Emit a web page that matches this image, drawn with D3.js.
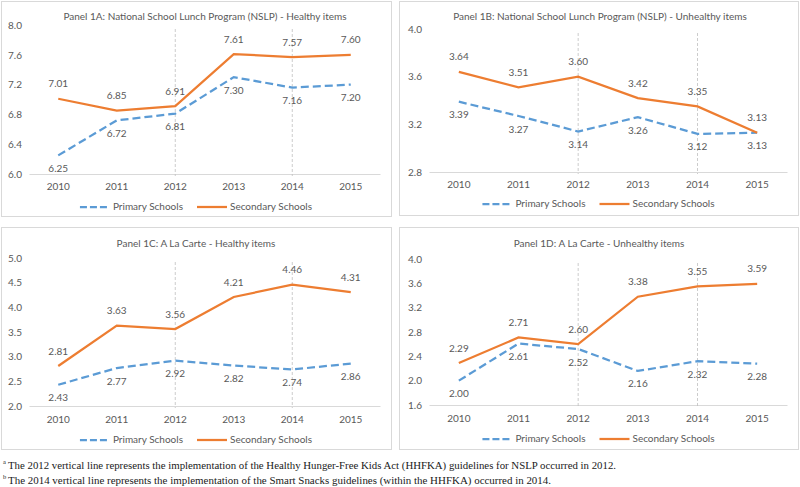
<!DOCTYPE html>
<html>
<head>
<meta charset="utf-8">
<script src="https://cdn.jsdelivr.net/npm/d3@7"></script>
<style>
  body { margin: 0; background: #fff; }
  svg { display: block; }
  text { font-family: Lato, "Open Sans", sans-serif; fill: #595959; }
  .note { font-family: "Liberation Serif", serif; fill: #1a1a1a; }
</style>
</head>
<body>
<svg id="chart" width="800" height="487"></svg>
<script>
// categories
var years = ['2010', '2011', '2012', '2013', '2014', '2015'];
var policyYears = ['2012', '2014'];

// series values, one pair per panel
var primaryA = [6.25, 6.72, 6.81, 7.30, 7.16, 7.20];
var secondaryA = [7.01, 6.85, 6.91, 7.61, 7.57, 7.60];
var primaryB = [3.39, 3.27, 3.14, 3.26, 3.12, 3.13];
var secondaryB = [3.64, 3.51, 3.60, 3.42, 3.35, 3.13];
var primaryC = [2.43, 2.77, 2.92, 2.82, 2.74, 2.86];
var secondaryC = [2.81, 3.63, 3.56, 4.21, 4.46, 4.31];
var primaryD = [2.00, 2.61, 2.52, 2.16, 2.32, 2.28];
var secondaryD = [2.29, 2.71, 2.60, 3.38, 3.55, 3.59];

// y tick labels
var ticksA = [6.0, 6.4, 6.8, 7.2, 7.6, 8.0];
var ticksB = [2.8, 3.2, 3.6, 4.0];
var ticksC = [2.0, 2.5, 3.0, 3.5, 4.0, 4.5, 5.0];
var ticksD = [1.6, 2.0, 2.4, 2.8, 3.2, 3.6, 4.0];

var titles = [
    'Panel 1A: National School Lunch Program (NSLP) - Healthy items',
    'Panel 1B: National School Lunch Program (NSLP) - Unhealthy items',
    'Panel 1C: A La Carte - Healthy items',
    'Panel 1D: A La Carte - Unhealthy items'
];
var seriesNames = ['Primary Schools', 'Secondary Schools'];
var notes = [
    ['a', 'The 2012 vertical line represents the implementation of the Healthy Hunger-Free Kids Act (HHFKA) guidelines for NSLP occurred in 2012.'],
    ['b', 'The 2014 vertical line represents the implementation of the Smart Snacks guidelines (within the HHFKA) occurred in 2014.']
];

var BLUE = '#5b9bd5', ORANGE = '#ed7d31';

// where each panel sits
var panels = [
    {box: [1, 1, 390, 215], plot: [29, 380, 25, 174], titleX: 205, titleY: 17, xlabY: 187, legY: 207,
        primary: primaryA, secondary: secondaryA, ticks: ticksA},
    {box: [399, 1, 399, 214], plot: [429, 787, 29, 172], titleX: 600, titleY: 17, xlabY: 185, legY: 204,
        primary: primaryB, secondary: secondaryB, ticks: ticksB},
    {box: [1, 227, 390, 222], plot: [29, 380, 258, 406], titleX: 196, titleY: 244, xlabY: 420, legY: 440,
        primary: primaryC, secondary: secondaryC, ticks: ticksC},
    {box: [399, 227, 399, 222], plot: [429, 787, 259, 405], titleX: 599, titleY: 244, xlabY: 419, legY: 439,
        primary: primaryD, secondary: secondaryD, ticks: ticksD}
];

var svg = d3.select('#chart');

panels.forEach(function (p, i) {
    var g = svg.append('g');
    var left = p.plot[0], right = p.plot[1], top = p.plot[2], bottom = p.plot[3];

    // panel frame
    g.append('rect')
        .attr('x', p.box[0] + 0.5).attr('y', p.box[1] + 0.5)
        .attr('width', p.box[2]).attr('height', p.box[3])
        .attr('fill', '#fff').attr('stroke', '#d9d9d9');

    var x = d3.scaleBand().domain(years).range([left, right]);
    var y = d3.scaleLinear().domain(d3.extent(p.ticks)).range([bottom, top]);
    var cx = function (d) { return x(d) + x.bandwidth() / 2; };

    // title
    g.append('text')
        .attr('x', p.titleX).attr('y', p.titleY)
        .attr('text-anchor', 'middle').attr('dominant-baseline', 'middle')
        .style('font-size', '10px')
        .text(titles[i]);

    // y axis labels only
    var yAxis = g.append('g')
        .attr('transform', 'translate(' + left + ',0)')
        .call(d3.axisLeft(y).tickValues(p.ticks).tickFormat(d3.format('.1f')).tickSize(0).tickPadding(7));
    yAxis.select('.domain').remove();
    yAxis.selectAll('text').style('font-size', '10px').attr('fill', '#595959').style('font-family', null);

    // x axis
    var xAxis = g.append('g')
        .attr('transform', 'translate(0,' + bottom + ')')
        .call(d3.axisBottom(x).tickSize(0).tickPadding(p.xlabY - bottom - 4));
    xAxis.select('.domain').attr('stroke', '#d9d9d9');
    xAxis.selectAll('text').style('font-size', '10px').attr('fill', '#595959').style('font-family', null);

    // policy lines
    g.selectAll('.policy')
        .data(policyYears)
        .enter().append('line')
        .attr('x1', cx).attr('x2', cx)
        .attr('y1', top + 4).attr('y2', bottom + 2)
        .attr('stroke', '#bfbfbf').attr('stroke-width', 0.8)
        .attr('stroke-dasharray', '3,2');

    var line = d3.line()
        .x(function (d, j) { return cx(years[j]); })
        .y(function (d) { return y(d); });

    g.append('path').datum(p.primary)
        .attr('d', line).attr('fill', 'none')
        .attr('stroke', BLUE).attr('stroke-width', 2.25)
        .attr('stroke-dasharray', '8,4');

    g.append('path').datum(p.secondary)
        .attr('d', line).attr('fill', 'none')
        .attr('stroke', ORANGE).attr('stroke-width', 2.25);

    // data labels: secondary above, primary below
    g.selectAll('.labS')
        .data(p.secondary)
        .enter().append('text')
        .attr('x', function (d, j) { return cx(years[j]); })
        .attr('y', function (d) { return y(d) - 14; })
        .attr('text-anchor', 'middle').attr('dominant-baseline', 'middle')
        .style('font-size', '10px')
        .text(function (d) { return d.toFixed(2); });

    g.selectAll('.labP')
        .data(p.primary)
        .enter().append('text')
        .attr('x', function (d, j) { return cx(years[j]); })
        .attr('y', function (d) { return y(d) + 14; })
        .attr('text-anchor', 'middle').attr('dominant-baseline', 'middle')
        .style('font-size', '10px')
        .text(function (d) { return d.toFixed(2); });

    // legend, centred in the panel
    var leg = g.append('g');
    var t1 = leg.append('text').attr('x', 33).attr('y', 0)
        .attr('dominant-baseline', 'middle').style('font-size', '10px')
        .text(seriesNames[0]);
    var w1 = t1.node().getComputedTextLength();
    leg.append('line').attr('x1', 0).attr('x2', 28).attr('y1', 0).attr('y2', 0)
        .attr('stroke', BLUE).attr('stroke-width', 2.25).attr('stroke-dasharray', '7,3');
    var x2 = 33 + w1 + 14;
    leg.append('line').attr('x1', x2).attr('x2', x2 + 30).attr('y1', 0).attr('y2', 0)
        .attr('stroke', ORANGE).attr('stroke-width', 2.25);
    var t2 = leg.append('text').attr('x', x2 + 33).attr('y', 0)
        .attr('dominant-baseline', 'middle').style('font-size', '10px')
        .text(seriesNames[1]);
    var total = x2 + 33 + t2.node().getComputedTextLength();
    var mid = p.box[0] + p.box[2] / 2;
    leg.attr('transform', 'translate(' + (mid - total / 2) + ',' + p.legY + ')');
});

// footnotes
var noteWidths = [608, 543];
notes.forEach(function (n, i) {
    var yy = 466 + i * 15;
    svg.append('text').attr('class', 'note')
        .attr('x', 3).attr('y', yy - 3)
        .attr('dominant-baseline', 'middle')
        .style('font-size', '6.5px')
        .text(n[0]);
    svg.append('text').attr('class', 'note')
        .attr('x', 8).attr('y', yy)
        .attr('dominant-baseline', 'middle')
        .attr('textLength', noteWidths[i]).attr('lengthAdjust', 'spacingAndGlyphs')
        .style('font-size', '11px')
        .text(n[1]);
});
</script>
</body>
</html>
